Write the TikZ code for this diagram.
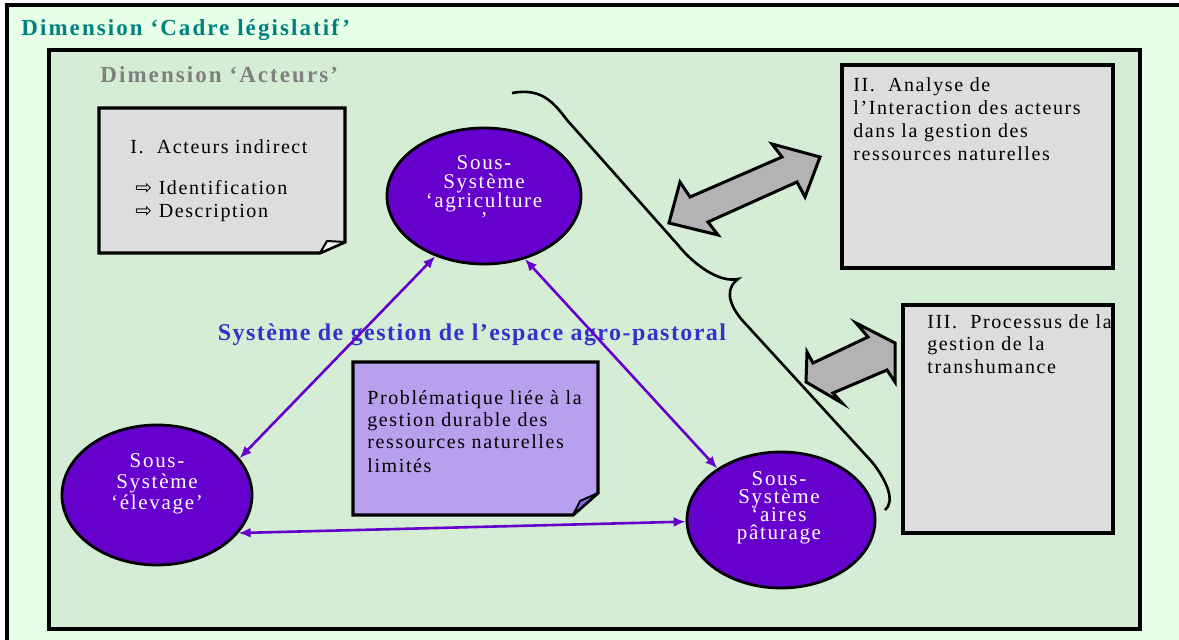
\documentclass[tikz,border=0pt]{standalone}
\usepackage{fontspec}
\setmainfont{Liberation Serif}[LetterSpace=8]
\newfontfamily\dimfont{Liberation Serif}[LetterSpace=9]
\newfontfamily\headfont{Liberation Serif}[LetterSpace=6]
\newfontfamily\symfont{DejaVu Sans}
\usetikzlibrary{shapes.geometric,arrows.meta}

\definecolor{mlegal}{RGB}{230,255,230}
\definecolor{mactor}{RGB}{212,237,212}
\definecolor{mviolet}{RGB}{102,0,204}
\definecolor{mteal}{RGB}{0,128,128}
\definecolor{mgrey}{RGB}{128,128,128}
\definecolor{mblue}{RGB}{51,51,204}
\definecolor{mpaper}{RGB}{221,221,221}
\definecolor{mshade}{RGB}{179,179,179}
\definecolor{mlilac}{RGB}{185,160,238}
\definecolor{mfold}{RGB}{140,100,226}
\newcommand*{\colSys}{mviolet}
\newcommand*{\colNote}{mpaper}
\newcommand*{\colPb}{mlilac}
\newcommand*{\px}{0.5pt}
\newcommand*{\tightLines}{\lineskiplimit=-6pt\relax}

\begin{document}
\begin{tikzpicture}[x=\px, y=-\px,
    frame/.style={draw=black, line width=2.2pt},
    note/.style={draw=black, line width=1.6pt},
    fold/.style={draw=black, line width=1pt, line join=round},
    txt/.style={inner sep=0pt, align=left, font=\fontsize{10}{11.5}\selectfont},
    sys/.style={ellipse, draw=black, line width=1.4pt, fill=\colSys, inner sep=0pt},
    systxt/.style={inner sep=0pt, align=center, text=white},
    link/.style={draw=\colSys, line width=1.3pt, >={Latex[length=6pt,width=5pt]}, <->},
    bigarrow/.style={draw=black, line width=1.5pt, fill=mshade, line join=miter},
    dimtitle/.style={inner sep=0pt, anchor=base west, font=\dimfont\bfseries\fontsize{11.5}{13}\selectfont}]

    \path[use as bounding box] (0,0) rectangle (1179,640);
    \clip (0,0) rectangle (1179,640);

    % dimensions
    \draw[frame, fill=mlegal] (7,5) rectangle (1185,655);
    \node[dimtitle, text=mteal] (cadre) at (21,36) {Dimension ‘Cadre législatif’};
    \draw[frame, fill=mactor] (49,50) rectangle (1140,629);
    \node[dimtitle, text=mgrey] (acteurs) at (100,83) {Dimension ‘Acteurs’};

    % brace
    \draw[line width=1.3pt] (512,93) .. controls (540,88) and (552,100) .. (567,120)
        -- (678,245) .. controls (695,266) and (720,283) .. (738,279)
        .. controls (727,287) and (726,301) .. (742,320)
        -- (872,462) .. controls (888,482) and (895,502) .. (885,510);

    % notes
    \begin{scope}
        \filldraw[note, fill=\colNote] (99,108) -- (345,108) -- (345,242) -- (320,253) -- (99,253) -- cycle;
        \filldraw[fold, fill=white!60!\colNote] (320,253) -- (327,241) -- (345,242) -- cycle;
        \node[txt, anchor=north west] (indirect) at (130,139)
            {I.\ \ Acteurs indirect\\[9pt]
             \hspace*{2.5pt}{\symfont ⇨} Identification\\
             \hspace*{2.5pt}{\symfont ⇨} Description};

        \draw[note, fill=\colNote] (842,65) rectangle (1113,268);
        \node[txt, anchor=north west] (interaction) at (853,77)
            {II.\ \ Analyse de\\ l’Interaction des acteurs\\ dans la gestion des\\ ressources naturelles};

        \draw[note, fill=\colNote] (903,305) rectangle (1113,533);
        \node[txt, anchor=north west, font=\fontsize{10}{11.2}\selectfont] (transhumance) at (927,314)
            {III.\ \ Processus de la\\ gestion de la\\ transhumance};

        \filldraw[note, fill=\colPb] (353,362) -- (598,362) -- (598,493) -- (573,515) -- (353,515) -- cycle;
        \filldraw[fold, fill=mfold] (573,515) -- (580,501) -- (598,493) -- cycle;
        \node[txt, anchor=north west, font=\fontsize{10}{11}\selectfont] (probleme) at (367,390)
            {Problématique liée à la\\ gestion durable des\\ ressources naturelles\\[1pt] limités};
    \end{scope}

    % block arrows
    \filldraw[bigarrow] (680,182) -- (690,197) -- (782,157) -- (772,144) -- (820,157) -- (805,197)
        -- (797,182) -- (708,222) -- (718,235) -- (669,223) -- cycle;
    \filldraw[bigarrow] (807,352) -- (813,363) -- (868,337) -- (856,323) -- (895,343) -- (895,382)
        -- (887,370) -- (833,393) -- (842,403) -- (806,382) -- cycle;

    \node[inner sep=0pt, anchor=base, text=mblue, font=\headfont\bfseries\fontsize{12}{14}\selectfont]
        (espace) at (472,341) {Système de gestion de l’espace agro-pastoral};

    % sous-systemes
    \node[sys, minimum width=97pt, minimum height=68pt] (agri) at (484,196) {};
    \node[sys, minimum width=95pt, minimum height=70pt] (elevage) at (157,495) {};
    \node[sys, minimum width=94pt, minimum height=68pt] (aires) at (781,520) {};

    \node[systxt, font={\fontsize{10.5}{9.5}\selectfont\tightLines}] (agri-txt) at (484,191)
        {Sous-\\Système\\‘agriculture\\’};
    \node[systxt, font={\fontsize{10.5}{10.5}\selectfont\tightLines}] (elevage-txt) at (157,484)
        {Sous-\\Système\\‘élevage’};
    \node[systxt, font={\fontsize{10.5}{9}\selectfont\tightLines}] (aires-txt) at (779,508)
        {Sous-\\Système\\‘aires\\pâturage};

    \draw[link] (agri.231) -- (elevage.24);
    \draw[link] (agri.303) -- (aires.141);
    \draw[link] (elevage.335) -- (aires.181);

\end{tikzpicture}
\end{document}
